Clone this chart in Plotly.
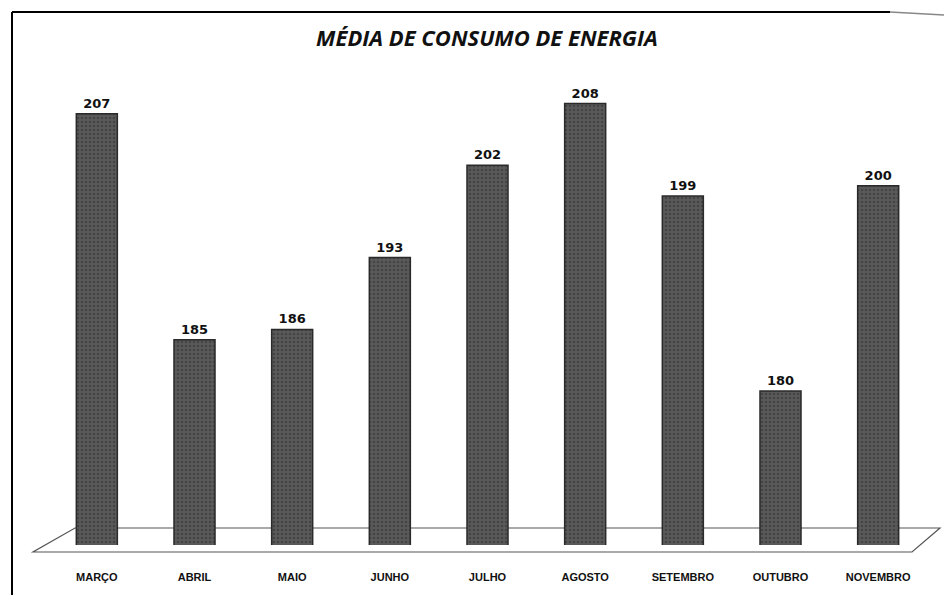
import plotly.graph_objects as go

months = ["MARÇO", "ABRIL", "MAIO", "JUNHO", "JULHO", "AGOSTO", "SETEMBRO", "OUTUBRO", "NOVEMBRO"]
consumo = [207, 185, 186, 193, 202, 208, 199, 180, 200]
title_text = "MÉDIA DE CONSUMO DE ENERGIA"

W, H = 944, 595
L, R, T, B = 48, 17, 80, 50
pw, ph = W - L - R, H - T - B

def px(x):
    return (x - L) / pw

def py(y):
    return (H - B - y) / ph

fig = go.Figure()
fig.add_trace(go.Bar(
    x=months, y=consumo,
    width=0.42,
    marker=dict(color="#505050",
                line=dict(color="#2a2a2a", width=1.5),
                pattern=dict(shape=".", fgcolor="#2e2e2e", bgcolor="#5a5a5a", size=4, solidity=0.35)),
    text=[str(v) for v in consumo],
    textposition="outside",
    textfont=dict(family="DejaVu Sans, Liberation Sans", size=13, color="#111"),
    texttemplate="<b>%{text}</b>",
    cliponaxis=False,
))

floor = (f"M {px(75)},{py(528)} L {px(940)},{py(528)} L {px(912)},{py(552)} "
         f"L {px(33)},{py(552)} Z")
shapes = [
    dict(type="path", xref="paper", yref="paper", path=floor,
         line=dict(color="#555", width=1.2), fillcolor="rgba(0,0,0,0)", layer="below"),
    dict(type="line", xref="paper", yref="paper", x0=px(12), x1=px(12), y0=py(12), y1=py(595),
         line=dict(color="#000", width=2)),
    dict(type="line", xref="paper", yref="paper", x0=px(12), x1=px(890), y0=py(12), y1=py(12),
         line=dict(color="#000", width=2)),
    dict(type="line", xref="paper", yref="paper", x0=px(890), x1=px(944), y0=py(12), y1=py(15),
         line=dict(color="#888", width=1.5)),
]

fig.update_layout(
    width=W, height=H,
    margin=dict(l=L, r=R, t=T, b=B),
    paper_bgcolor="white", plot_bgcolor="white",
    title=dict(text=f"<b><i>{title_text}</i></b>", x=487 / W, xanchor="center",
               y=1 - 38 / H, yanchor="middle",
               font=dict(family="Open Sans, Lato", size=22, color="#111")),
    xaxis=dict(showgrid=False, showline=False, zeroline=False, ticks="",
               tickfont=dict(family="Liberation Sans Narrow, Liberation Sans", size=11, color="#111"),
               ticklabelstandoff=24,
               tickvals=months, ticktext=[f"<b>{m}</b>" for m in months]),
    yaxis=dict(range=[165, 210.3], visible=False, showgrid=False),
    shapes=shapes,
    showlegend=False,
)

fig.write_html("out.html")
